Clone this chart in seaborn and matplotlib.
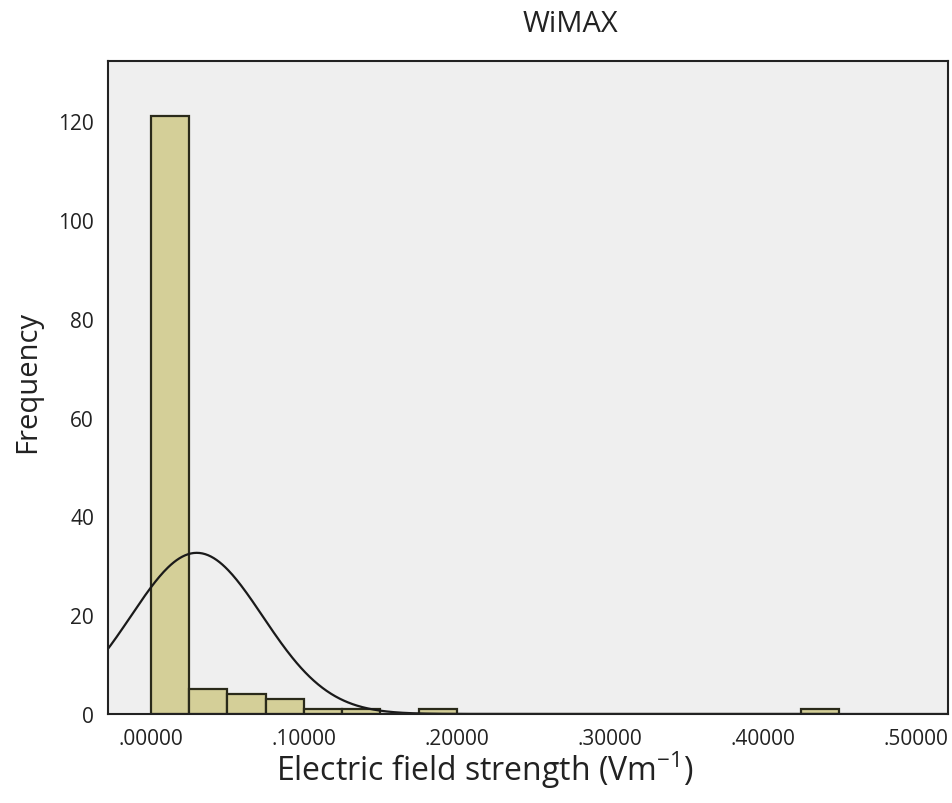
import numpy as np
import pandas as pd
import matplotlib
matplotlib.use("Agg")
import matplotlib.pyplot as plt
import seaborn as sns

# Data
bin_edges = [0.0, 0.025, 0.05, 0.075, 0.10, 0.125, 0.15, 0.175, 0.20, 0.225, 0.25,
             0.275, 0.30, 0.325, 0.35, 0.375, 0.40, 0.425, 0.45]
bin_counts = [121, 5, 4, 3, 1, 1, 0, 1, 0, 0, 0, 0, 0, 0, 0, 0, 0, 1]
curve_mean = 0.0299
curve_sd = 0.0431
n_total = 141
x_ticks = [0.0, 0.1, 0.2, 0.3, 0.4, 0.5]
x_tick_labels = [".00000", ".10000", ".20000", ".30000", ".40000", ".50000"]
y_ticks = [0, 20, 40, 60, 80, 100, 120]

mids = [(bin_edges[i] + bin_edges[i + 1]) / 2 for i in range(len(bin_counts))]
df = pd.DataFrame({"value": mids, "count": bin_counts})

sns.set_style("white")
plt.rcParams["font.family"] = ["Open Sans", "DejaVu Sans"]

fig = plt.figure(figsize=(9.53, 8.04), dpi=100)
ax = fig.add_axes([108 / 953, 1 - 715 / 804, (948 - 108) / 953, (715 - 62) / 804])
ax.set_facecolor("#efefef")

sns.histplot(data=df, x="value", weights="count", bins=bin_edges, ax=ax,
             color="#d4cf98", edgecolor="#2a2a1a", linewidth=1.6, alpha=1)

xs = np.linspace(-0.03, 0.53, 600)
bw = bin_edges[1] - bin_edges[0]
ys = n_total * bw / (curve_sd * np.sqrt(2 * np.pi)) * np.exp(-0.5 * ((xs - curve_mean) / curve_sd) ** 2)
sns.lineplot(x=xs, y=ys, ax=ax, color="#1a1a1a", linewidth=1.6)

ax.set_xlim(-0.0281, 0.521)
ax.set_ylim(0, 132.2)
ax.set_xticks(x_ticks)
ax.set_xticklabels(x_tick_labels)
ax.set_yticks(y_ticks)
ax.tick_params(axis="both", direction="out", length=7, width=1.5, color="#222222",
               labelsize=15, labelcolor="#222222", pad=3)
for s in ax.spines.values():
    s.set_visible(True)
    s.set_color("#222222")
    s.set_linewidth(1.5)

ax.set_xlabel("Electric field strength (Vm$^{\\mathregular{-1}}$)", fontsize=23, color="#222222")
ax.xaxis.set_label_coords((485 - 108) / 840, -(770 - 715) / 653)
ax.xaxis.label.set_va("center")
ax.set_ylabel("Frequency", fontsize=21, color="#222222")
ax.yaxis.set_label_coords(-(108 - 28) / 840, (715 - 382) / 653)
ax.yaxis.label.set_va("center")
fig.text(570 / 953, 1 - 25 / 804, "WiMAX", fontsize=21, color="#222222",
         ha="center", va="center")

fig.savefig("out.png", dpi=100)
